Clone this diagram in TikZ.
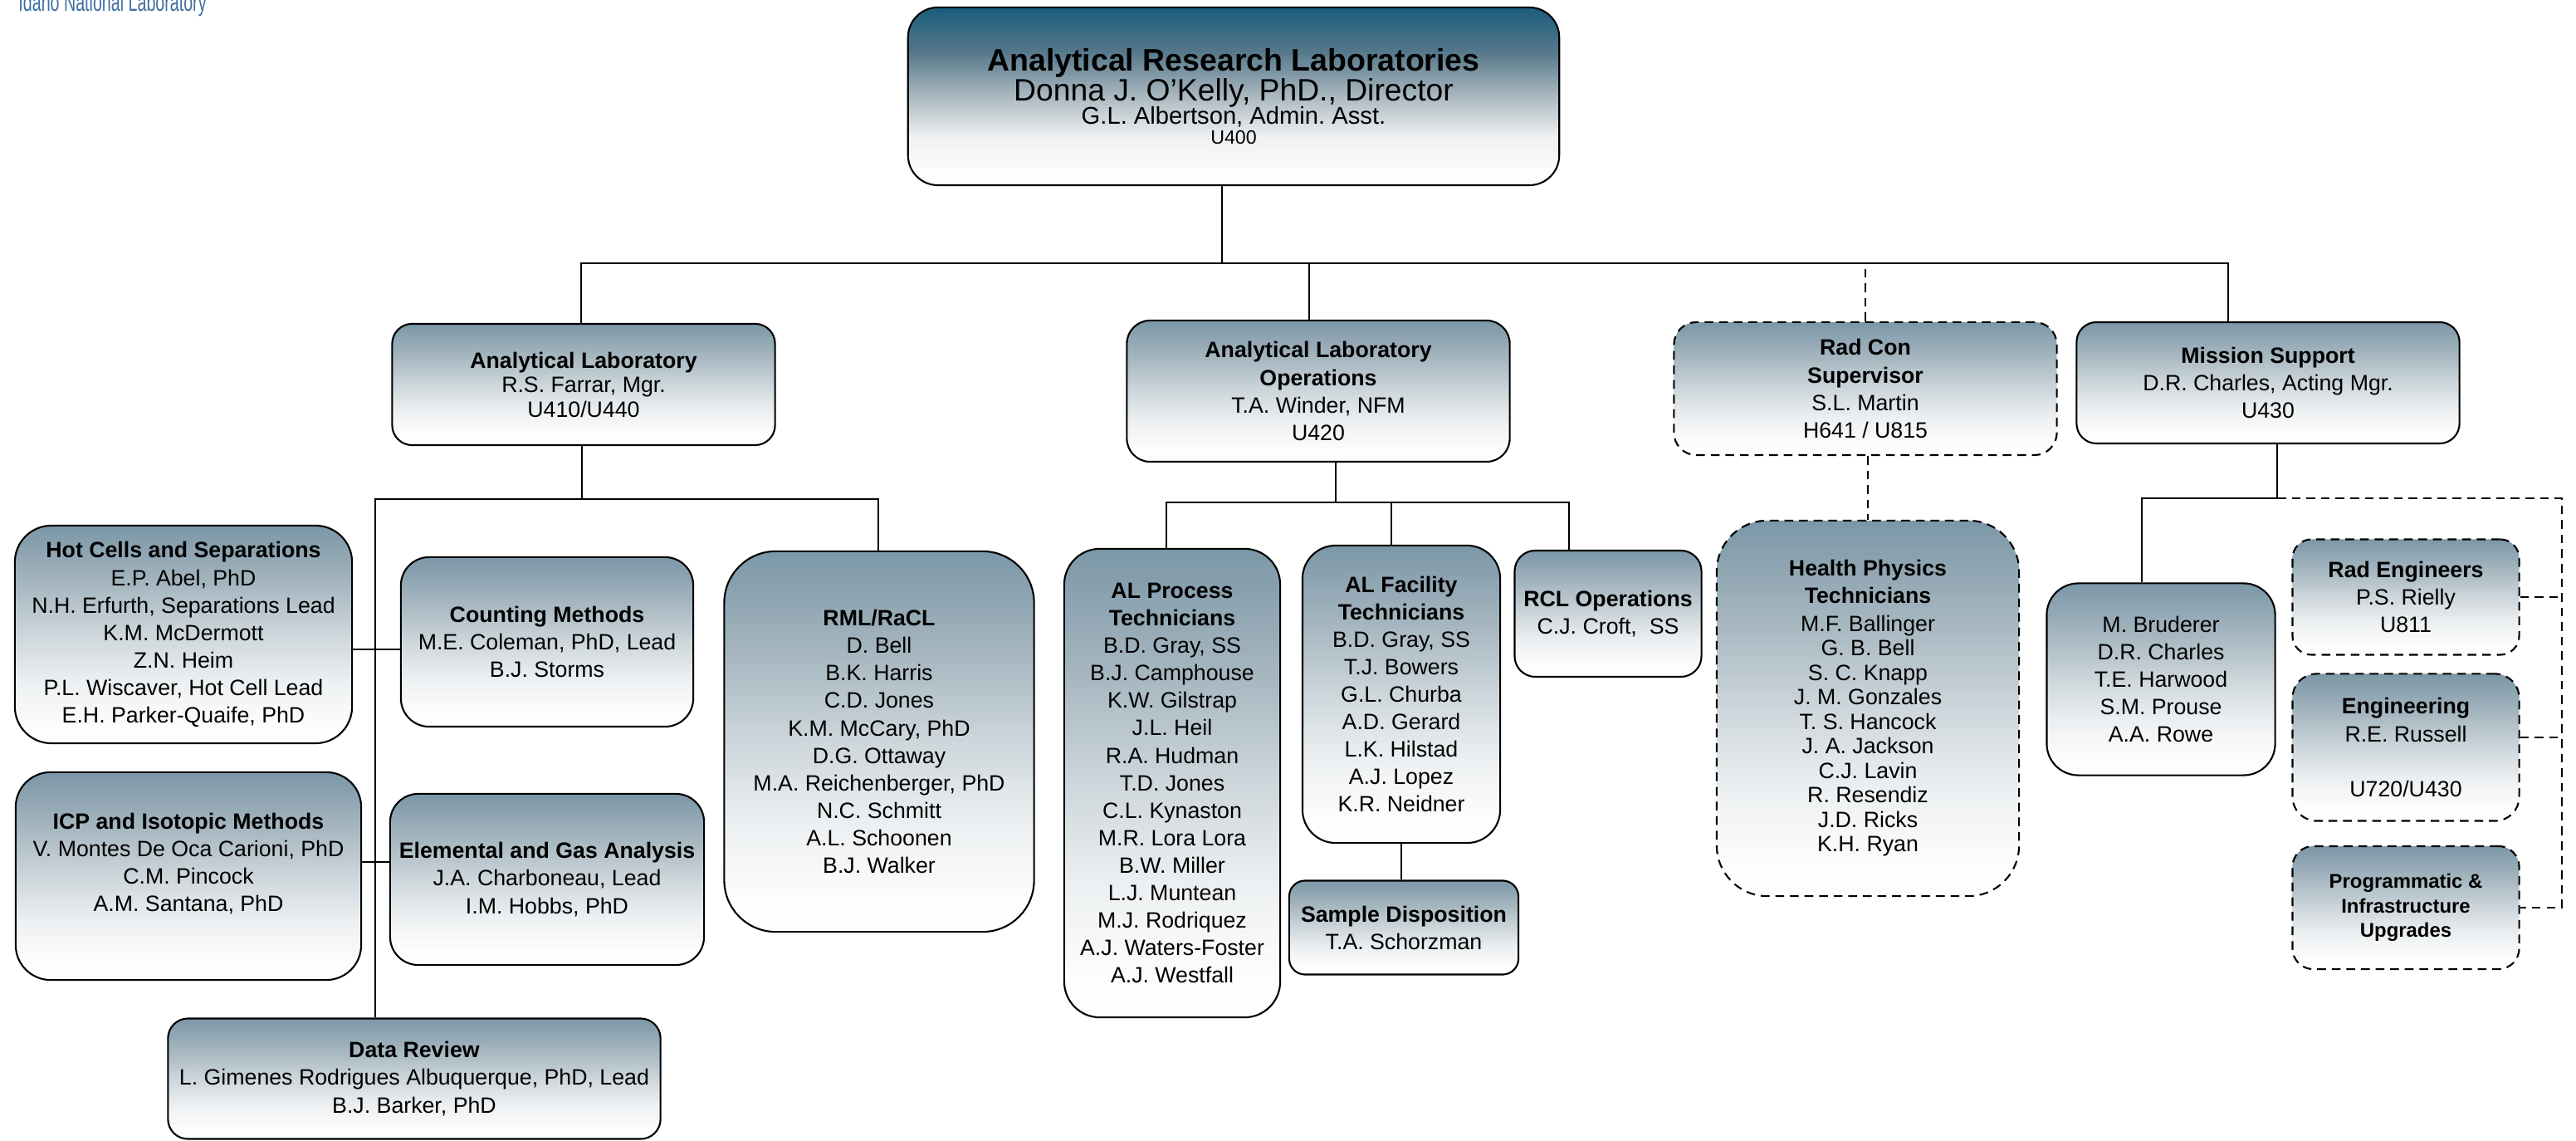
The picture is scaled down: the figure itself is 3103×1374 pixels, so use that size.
\documentclass[tikz,border=0pt]{standalone}
\usepackage{fontspec}
\setmainfont{Liberation Sans}
\definecolor{boxtop}{HTML}{7B97A7}
\definecolor{boxa}{HTML}{A3B4BE}
\definecolor{boxb}{HTML}{CDD6DB}
\definecolor{boxc}{HTML}{EDF0F2}
\definecolor{boxend}{HTML}{FDFDFD}
\definecolor{headtop}{HTML}{1A5C7C}
\definecolor{heada}{HTML}{56788B}
\definecolor{headb}{HTML}{ABB8C0}
\definecolor{headc}{HTML}{EDEFF1}
\definecolor{logoblue}{HTML}{3F6F9F}
% 25bp is the foot of the box and 75bp its head
\pgfdeclareverticalshading{orgfade}{100bp}{color(0bp)=(boxend); color(29bp)=(boxend); color(39bp)=(boxc); color(50bp)=(boxb); color(62.5bp)=(boxa); color(75bp)=(boxtop); color(100bp)=(boxtop)}
\pgfdeclareverticalshading{headfade}{100bp}{color(0bp)=(boxend); color(29bp)=(boxend); color(39bp)=(headc); color(50bp)=(headb); color(62.5bp)=(heada); color(75bp)=(headtop); color(100bp)=(headtop)}
\tikzset{
  orgbox/.style n args={3}{draw=black,line width=0.6pt,shade,shading=orgfade,
    align=center,inner sep=0pt,minimum width=#1,minimum height=#2,rounded corners=#3,
    font=\fontsize{7.6}{9.4}\selectfont\frenchspacing},
  dashbox/.style={dashed,dash pattern=on 3pt off 2pt},
  conn/.style={line width=0.6pt},
  dashconn/.style={line width=0.6pt,dash pattern=on 3pt off 2pt}
}
\begin{document}
\begin{tikzpicture}[x=0.01cm,y=-0.01cm]
\useasboundingbox (0,0) rectangle (3103,1374);
% the logo, cut by the page
\node[anchor=base west,inner sep=0pt,text=logoblue,xscale=0.65,transform shape,font=\fontsize{8.6}{10}\selectfont] (logo) at (22,14) {Idaho National Laboratory};
% director
\node[orgbox={7.84cm}{2.14cm}{.36cm},shading=headfade] (head) at (1486,116) {%
  {\fontsize{10.65}{10.5}\selectfont\bfseries Analytical Research Laboratories}\\[-0.75pt]
  {\fontsize{10.6}{10}\selectfont Donna J. O’Kelly, PhD., Director}\\[-1.4pt]
  {\fontsize{8.3}{9}\selectfont G.L. Albertson, Admin. Asst.}\\[-2.7pt]
  {\fontsize{6.6}{7}\selectfont U400}};
% second row
\node[orgbox={4.61cm}{1.46cm}{.24cm},font=\fontsize{7.6}{8.4}\selectfont\frenchspacing] (alab) at (703,463) {\textbf{Analytical Laboratory}\\R.S. Farrar, Mgr.\\U410/U440};
\node[orgbox={4.61cm}{1.70cm}{.28cm}] (alops) at (1588,471) {\textbf{Analytical Laboratory}\\\textbf{Operations}\\T.A. Winder, NFM\\U420};
\node[orgbox={4.61cm}{1.60cm}{.27cm},dashbox] (radcon) at (2247,468) {\textbf{Rad Con}\\\textbf{Supervisor}\\S.L. Martin\\H641 / U815};
\node[orgbox={4.61cm}{1.46cm}{.24cm}] (mission) at (2732,461) {\textbf{Mission Support}\\D.R. Charles, Acting Mgr.\\U430};
% analytical laboratory groups
\node[orgbox={4.06cm}{2.62cm}{.44cm}] (hot) at (221,764) {\textbf{Hot Cells and Separations}\\E.P. Abel, PhD\\N.H. Erfurth, Separations Lead\\K.M. McDermott\\Z.N. Heim\\P.L. Wiscaver, Hot Cell Lead\\E.H. Parker-Quaife, PhD};
\node[orgbox={3.52cm}{2.04cm}{.34cm}] (count) at (659,773) {\textbf{Counting Methods}\\M.E. Coleman, PhD, Lead\\B.J. Storms};
\node[orgbox={3.73cm}{4.58cm}{.62cm}] (rml) at (1059,893) {\textbf{RML/RaCL}\\D. Bell\\B.K. Harris\\C.D. Jones\\K.M. McCary, PhD\\D.G. Ottaway\\M.A. Reichenberger, PhD\\N.C. Schmitt\\A.L. Schoonen\\B.J. Walker};
\node[orgbox={4.16cm}{2.50cm}{.42cm}] (icp) at (227,1055) {\textbf{ICP and Isotopic Methods}\\V. Montes De Oca Carioni, PhD\\C.M. Pincock\\A.M. Santana, PhD\\~};
\node[orgbox={3.78cm}{2.06cm}{.34cm}] (elem) at (659,1059) {\textbf{Elemental and Gas Analysis}\\J.A. Charboneau, Lead\\I.M. Hobbs, PhD};
\node[orgbox={5.93cm}{1.45cm}{.24cm}] (data) at (499,1299) {\textbf{Data Review}\\L. Gimenes Rodrigues Albuquerque, PhD, Lead\\B.J. Barker, PhD};
% operations groups
\node[orgbox={2.60cm}{5.64cm}{.43cm}] (process) at (1412,943) {\textbf{AL Process}\\\textbf{Technicians}\\B.D. Gray, SS\\B.J. Camphouse\\K.W. Gilstrap\\J.L. Heil\\R.A. Hudman\\T.D. Jones\\C.L. Kynaston\\M.R. Lora Lora\\B.W. Miller\\L.J. Muntean\\M.J. Rodriquez\\A.J. Waters-Foster\\A.J. Westfall};
\node[orgbox={2.38cm}{3.58cm}{.40cm}] (facility) at (1688,836) {\textbf{AL Facility}\\\textbf{Technicians}\\B.D. Gray, SS\\T.J. Bowers\\G.L. Churba\\A.D. Gerard\\L.K. Hilstad\\A.J. Lopez\\K.R. Neidner};
\node[orgbox={2.25cm}{1.52cm}{.25cm}] (rcl) at (1937,739) {\textbf{RCL Operations}\\C.J. Croft,~~SS};
\node[orgbox={2.76cm}{1.13cm}{.19cm}] (sample) at (1691,1117) {\textbf{Sample Disposition}\\T.A. Schorzman};
% rad con and mission support groups
\node[orgbox={3.64cm}{4.52cm}{.61cm},dashbox,font=\fontsize{7.6}{8.4}\selectfont\frenchspacing] (health) at (2250,853) {\textbf{Health Physics}\\[1pt]\textbf{Technicians}\\[1pt]M.F. Ballinger\\G. B. Bell\\S. C. Knapp\\J. M. Gonzales\\T. S. Hancock\\J. A. Jackson\\C.J. Lavin\\R. Resendiz\\J.D. Ricks\\K.H. Ryan};
\node[orgbox={2.75cm}{2.31cm}{.38cm}] (staff) at (2603,818) {M. Bruderer\\D.R. Charles\\T.E. Harwood\\S.M. Prouse\\A.A. Rowe};
\node[orgbox={2.73cm}{1.39cm}{.23cm},dashbox] (radeng) at (2898,719) {\textbf{Rad Engineers}\\P.S. Rielly\\U811};
\node[orgbox={2.73cm}{1.77cm}{.29cm},dashbox] (eng) at (2898,900) {\textbf{Engineering}\\R.E. Russell\\~\\U720/U430};
\node[orgbox={2.73cm}{1.48cm}{.25cm},dashbox,font=\fontsize{6.8}{8.45}\selectfont] (prog) at (2898,1093) {\textbf{Programmatic \&}\\\textbf{Infrastructure}\\\textbf{Upgrades}};
% buses
\coordinate (bustop) at (1472,317);
\coordinate (busal) at (701,601);
\coordinate (busleft) at (452,601);
\coordinate (busrml) at (1058,601);
\coordinate (busops) at (1609,605);
\coordinate (busmis) at (2743,600);
\coordinate (busstaff) at (2580,600);
\coordinate (dashend) at (3086,600);
% top level
\draw[conn] (head.south -| bustop) -- (bustop);
\draw[conn] (alab.north -| 700,0) -- (700,317) -- (2684,317) -- (mission.north -| 2684,0);
\draw[conn] (alops.north -| 1577,0) -- (1577,317);
\draw[dashconn] (radcon.north) -- (radcon.north |- bustop);
\draw[dashconn] (radcon.south -| health.north) -- (health.north);
% analytical laboratory
\draw[conn] (alab.south -| busal) -- (busal);
\draw[conn] (data.north -| busleft) -- (busleft) -- (busrml) -- (rml.north -| busrml);
\draw[conn] (hot.east |- 0,782) -- (count.west |- 0,782);
\draw[conn] (icp.east |- 0,1038) -- (elem.west |- 0,1038);
% operations
\draw[conn] (alops.south -| busops) -- (busops);
\draw[conn] (process.north -| 1405,0) -- (1405,605) -- (1890,605) -- (rcl.north -| 1890,0);
\draw[conn] (facility.north -| 1676,0) -- (1676,605);
\draw[conn] (facility.south) -- (facility.south |- sample.north);
% mission support
\draw[conn] (mission.south -| busmis) -- (busmis) -- (busstaff) -- (staff.north -| busstaff);
\draw[dashconn] (busmis) -- (dashend) -- (dashend |- prog.east) -- (prog.east);
\draw[dashconn] (radeng.east) -- (radeng.east -| dashend);
\draw[dashconn] (eng.east |- 0,888) -- (dashend |- 0,888);
\end{tikzpicture}
\end{document}
